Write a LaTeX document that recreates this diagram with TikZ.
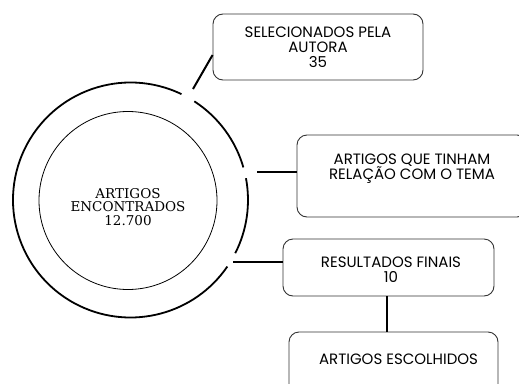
\documentclass[tikz,border=0pt]{standalone}
\usepackage{fontspec}
\setmainfont{Poppins}
\newfontfamily\circfont{DejaVu Serif}
\begin{document}
\begin{tikzpicture}[x=1pt,y=-1pt,
  box/.style={draw=black!80, line width=0.9pt, rounded corners=10pt, align=center,
    font=\fontsize{15}{15}\selectfont, inner sep=0pt},
  lbl/.style={font=\fontsize{15}{15}\selectfont, align=center, inner sep=0pt},
  conn/.style={line width=2pt, black},
  ring/.style={line width=1.8pt, black}]
\useasboundingbox (0,0) rectangle (519,383);
\clip (0,0) rectangle (519,383);
\fill[white] (0,0) rectangle (519,383);
% circles
\node[circle, draw, line width=0.8pt, minimum size=178pt, inner sep=0pt] (inner) at (128,200.5) {};
\node[font=\circfont\fontsize{13.5}{13.5}\selectfont, align=center, inner sep=0pt] (ctext) at (128,207)
  {ARTIGOS\\ENCONTRADOS\\12.700};
\coordinate (oc) at (130.5,200);
\draw[ring] (oc) ++(-64.3:117.5) arc[start angle=-64.3, end angle=-325.5, radius=117.5];
\draw[ring] (oc) ++(26.9:117.5) arc[start angle=26.9, end angle=-10.7, radius=117.5];
\draw[ring] (oc) ++(-16.1:117.5) arc[start angle=-16.1, end angle=-57.1, radius=117.5];
% boxes
\node[box, minimum width=210pt, minimum height=66pt] (b1) at (318,47)
  {SELECIONADOS PELA\\AUTORA\\35};
\node[box, minimum width=230pt, minimum height=82pt] (b2) at (412,176) {};
\node[lbl] (t2) at (412,169) {ARTIGOS QUE TINHAM\\RELAÇÃO COM O TEMA};
\node[box, minimum width=211pt, minimum height=57pt] (b3) at (388.5,267.5) {};
\node[lbl] (t3) at (391,270) {RESULTADOS FINAIS\\10};
\node[box, minimum width=209pt, minimum height=66pt] (b4) at (393.5,365) {};
\node[lbl] (t4) at (398.5,359.5) {ARTIGOS ESCOLHIDOS};
% connectors
\coordinate (e1) at (193,89);
\coordinate (e2) at (257,172);
\coordinate (e3) at (233,262);
\draw[conn] (b1.west |- 0,55) -- (e1);
\draw[conn] (b2.west |- e2) -- (e2);
\draw[conn] (b3.west |- e3) -- (e3);
\draw[conn] (b3.south -| 387,0) -- (b4.north -| 387,0);
\end{tikzpicture}
\end{document}
